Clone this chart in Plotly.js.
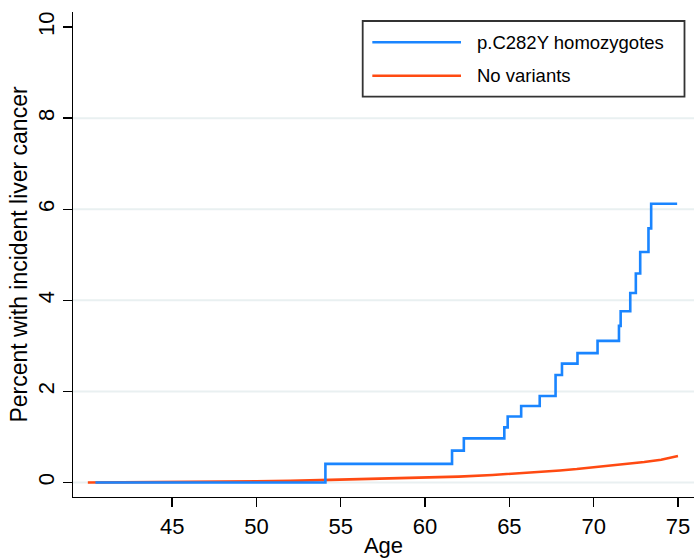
<!DOCTYPE html>
<html>
<head>
<meta charset="utf-8">
<script src="https://cdn.plot.ly/plotly-3.0.1.min.js"></script>
<style>html,body{margin:0;padding:0;background:#fff;}#chart{width:694px;height:560px;}</style>
</head>
<body>
<div id="chart"></div>
<script>
// Series names
const seriesNames = ["p.C282Y homozygotes", "No variants"];

// p.C282Y homozygotes (step function, Kaplan-Meier style)
const homAge = [40.45, 54.09, 61.6, 62.3, 64.7, 64.9, 65.7, 66.8, 67.74, 68.12, 69.04, 70.23, 71.5, 71.6, 72.17, 72.5, 72.76, 73.25, 73.41, 74.95];
const homPct = [0, 0.41, 0.70, 0.97, 1.21, 1.45, 1.68, 1.90, 2.36, 2.61, 2.84, 3.11, 3.44, 3.76, 4.16, 4.59, 5.06, 5.58, 6.12, 6.12];

// No variants
const noVarAge = [40.0, 42, 44, 46, 48, 50, 52, 54, 56, 58, 60, 62, 64, 66, 68, 69, 70, 71, 72, 73, 74, 74.5, 75];
const noVarPct = [0, 0.003, 0.006, 0.01, 0.015, 0.025, 0.037, 0.055, 0.07, 0.085, 0.105, 0.13, 0.165, 0.21, 0.265, 0.295, 0.33, 0.37, 0.41, 0.45, 0.5, 0.535, 0.58];

// Axis ticks
const xTicks = [45, 50, 55, 60, 65, 70, 75];
const yTicks = [0, 2, 4, 6, 8, 10];
const yGrid = [0, 2, 4, 6, 8];

const colors = ["#1a85ff", "#ff4a12"];
const font = "Liberation Sans, Arial, Helvetica, sans-serif";

const traces = [
  {x: noVarAge, y: noVarPct, type: "scatter", mode: "lines", name: seriesNames[1],
   line: {color: colors[1], width: 2.6, shape: "linear"}},
  {x: homAge, y: homPct, type: "scatter", mode: "lines", name: seriesNames[0],
   line: {color: colors[0], width: 2.6, shape: "hv"}}
];

const shapes = yGrid.map(v => ({type: "line", xref: "paper", yref: "y", x0: 0, x1: 1, y0: v, y1: v,
  line: {color: "#e9f0f1", width: 2}, layer: "below"}));

// legend box drawn in paper coordinates
shapes.push({type: "rect", xref: "paper", yref: "paper", x0: 0.4665, x1: 0.9847, y0: 0.8254, y1: 0.9814,
  line: {color: "#333", width: 1.8}, fillcolor: "rgba(255,255,255,1)"});
const legY = [0.9375, 0.8687];
const annotations = [];
[0, 1].forEach(i => {
  shapes.push({type: "line", xref: "paper", yref: "paper", x0: 0.482, x1: 0.6248, y0: legY[i], y1: legY[i],
    line: {color: colors[i], width: 2.6}});
  annotations.push({xref: "paper", yref: "paper", x: 0.6473, y: legY[i], xanchor: "left", yanchor: "middle",
    text: seriesNames[i], showarrow: false, font: {family: font, size: 18.5, color: "#000"}});
});

const layout = {
  width: 694, height: 560,
  margin: {l: 73, r: 0, t: 12, b: 63},
  paper_bgcolor: "#fff", plot_bgcolor: "#fff",
  showlegend: false,
  font: {family: font, color: "#000"},
  xaxis: {
    range: [39.12, 75.95], tickvals: xTicks, ticktext: xTicks.map(String),
    showgrid: false, zeroline: false, showline: true, linecolor: "#000", linewidth: 1.3,
    ticks: "outside", ticklen: 9, tickwidth: 1.3, tickcolor: "#000",
    tickfont: {family: font, size: 22, color: "#000"},
    title: {text: "Age", font: {family: font, size: 22, color: "#000"}, standoff: 0}
  },
  yaxis: {
    range: [-0.318, 10.33], tickvals: yTicks, ticktext: yTicks.map(String), tickangle: -90,
    showgrid: false, zeroline: false, showline: true, linecolor: "#000", linewidth: 1.3,
    ticks: "outside", ticklen: 9, tickwidth: 1.3, tickcolor: "#000",
    tickfont: {family: font, size: 22, color: "#000"},
    title: {text: "Percent with incident liver cancer", font: {family: font, size: 23, color: "#000"}, standoff: 0}
  },
  shapes: shapes,
  annotations: annotations
};

Plotly.newPlot("chart", traces, layout, {displayModeBar: false, staticPlot: true});
</script>
</body>
</html>
